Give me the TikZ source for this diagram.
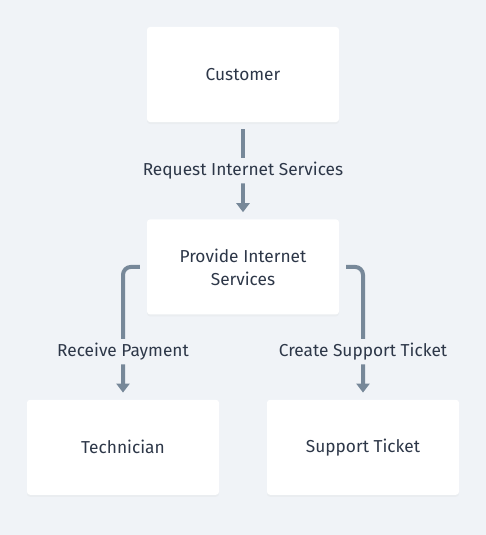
\documentclass[tikz,border=0pt]{standalone}
\usepackage{fontspec}
\setmainfont{Fira Sans}
\usetikzlibrary{positioning, arrows.meta, shadows}
\definecolor{bgcol}{HTML}{F0F3F7}
\definecolor{linecol}{HTML}{778899}
\definecolor{textcol}{HTML}{2D3748}
\tikzset{
  >={Triangle[width=13pt,length=9pt]},
  entity/.style={fill=white, rounded corners=3pt, minimum width=192pt,
    minimum height=95pt, text=textcol, align=center,
    font=\fontsize{17.3}{23}\selectfont,
    drop shadow={opacity=0.05, shadow xshift=0pt, shadow yshift=-2pt}},
  flow/.style={->, draw=linecol, line width=4pt, rounded corners=8pt,
    shorten <=7pt, shorten >=7pt},
  lbl/.style={fill=bgcol, text=textcol, inner sep=4pt,
    font=\fontsize{17.3}{20}\selectfont},
}

\begin{document}
\begin{tikzpicture}[x=1pt, y=-1pt]
  \fill[bgcol] (0,0) rectangle (486,535);
  \useasboundingbox (0,0) rectangle (486,535);

  % entities
  \node[entity] (cust) at (243,74.5) {Customer};
  \node[entity, below=97pt of cust] (prov) {Provide Internet\\Services};
  \node[entity, below=85pt of prov, xshift=-120pt] (tech) {Technician};
  \node[entity, below=85pt of prov, xshift=120pt] (ticket) {Support Ticket};

  % flows
  \draw[flow] (cust) -- node[lbl]{Request Internet Services} (prov);
  \draw[flow] (prov.west) -| node[lbl, pos=0.82]{Receive Payment} (tech.north);
  \draw[flow] (prov.east) -| node[lbl, pos=0.82]{Create Support Ticket} (ticket.north);
\end{tikzpicture}
\end{document}
